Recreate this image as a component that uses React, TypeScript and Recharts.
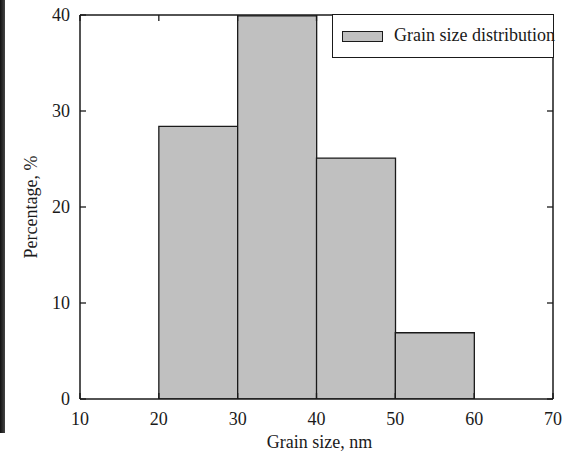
import React from 'react';
import {
  ComposedChart,
  Bar,
  XAxis,
  YAxis,
  Legend,
  Label,
} from 'recharts';

// grain size bins (nm), centre of each 10 nm bin
const binCenters = [25, 35, 45, 55];
// share of grains in each bin, %
const percentages = [28.4, 39.9, 25.1, 6.9];

const xTicks = [10, 20, 30, 40, 50, 60, 70];
const yTicks = [0, 10, 20, 30, 40];

const seriesName = 'Grain size distribution';
const xTitle = 'Grain size, nm';
const yTitle = 'Percentage, %';

const data = binCenters.map((x, i) => ({ x, pct: percentages[i] }));

const FONT = '"Liberation Serif", "Times New Roman", serif';
const INK = '#1a1a1a';
const BAR_FILL = '#c0c0c0';
const TICK = 6; // inward tick length

// tick renderers: the frame has its tick marks pointing inwards,
// labels stay outside
const BottomTick = ({ x, y, payload }: any) => (
  <g>
    <line x1={x} x2={x} y1={y - 13} y2={y - 13 - TICK} stroke={INK} strokeWidth={1.3} />
    <text x={x} y={y} dy="0.71em" textAnchor="middle" fontSize={18} fontFamily={FONT} fill={INK}>
      {payload.value}
    </text>
  </g>
);

const LeftTick = ({ x, y, payload }: any) => (
  <g>
    <line x1={x + 10} x2={x + 10 + TICK} y1={y} y2={y} stroke={INK} strokeWidth={1.3} />
    <text x={x} y={y} dy="0.355em" textAnchor="end" fontSize={18} fontFamily={FONT} fill={INK}>
      {payload.value}
    </text>
  </g>
);

const TopTick = ({ x, y }: any) => (
  <line x1={x} x2={x} y1={y} y2={y + TICK} stroke={INK} strokeWidth={1.3} />
);

const RightTick = ({ x, y }: any) => (
  <line x1={x} x2={x - TICK} y1={y} y2={y} stroke={INK} strokeWidth={1.3} />
);

const LegendBox = () => (
  <div
    style={{
      position: 'relative',
      width: 222,
      height: 44,
      boxSizing: 'border-box',
      border: `1.5px solid ${INK}`,
      background: '#fff',
      fontFamily: FONT,
    }}
  >
    <div
      style={{
        position: 'absolute',
        left: 9,
        top: 15.5,
        width: 41,
        height: 11,
        boxSizing: 'border-box',
        background: BAR_FILL,
        border: `1px solid ${INK}`,
      }}
    />
    <div
      style={{
        position: 'absolute',
        left: 61,
        top: 10,
        fontSize: 18,
        color: INK,
        whiteSpace: 'nowrap',
      }}
    >
      {seriesName}
    </div>
  </div>
);

export default function App() {
  return (
    <div
      style={{
        position: 'absolute',
        left: 0,
        top: 0,
        width: 574,
        height: 451,
        background: '#fff',
      }}
    >
      {/* dark scan edge on the left of the original figure */}
      <div
        style={{
          position: 'absolute',
          left: 0,
          top: 0,
          width: 5,
          height: 433,
          background: 'linear-gradient(to right, #111, #444)',
        }}
      />
      <ComposedChart
        width={574}
        height={451}
        data={data}
        margin={{ top: 14, right: 20, bottom: 0, left: 0 }}
        barCategoryGap={0}
        barGap={0}
      >
        <XAxis
          xAxisId="bottom"
          dataKey="x"
          type="number"
          domain={[10, 70]}
          ticks={xTicks}
          allowDataOverflow
          height={52}
          stroke={INK}
          strokeWidth={1.5}
          tickLine={false}
          tickSize={0}
          tickMargin={13}
          tick={<BottomTick />}
          interval={0}
        >
          <Label
            content={({ viewBox }: any) => (
              <text
                x={viewBox.x + viewBox.width / 2 + 3}
                y={viewBox.y + 49}
                textAnchor="middle"
                fontSize={18}
                fontFamily={FONT}
                fill={INK}
              >
                {xTitle}
              </text>
            )}
          />
        </XAxis>
        <XAxis
          xAxisId="top"
          dataKey="x"
          type="number"
          orientation="top"
          domain={[10, 70]}
          ticks={xTicks}
          allowDataOverflow
          height={1}
          stroke={INK}
          strokeWidth={1.5}
          tickLine={false}
          tickSize={0}
          tickMargin={0}
          tick={<TopTick />}
          interval={0}
        />
        <YAxis
          yAxisId="left"
          type="number"
          domain={[0, 40]}
          ticks={yTicks}
          allowDataOverflow
          width={80}
          stroke={INK}
          strokeWidth={1.5}
          tickLine={false}
          tickSize={0}
          tickMargin={10}
          tick={<LeftTick />}
          interval={0}
        >
          <Label
            content={({ viewBox }: any) => {
              const cx = viewBox.x + 31;
              const cy = viewBox.y + viewBox.height / 2;
              return (
                <text
                  x={cx}
                  y={cy}
                  transform={`rotate(-90 ${cx} ${cy})`}
                  textAnchor="middle"
                  dominantBaseline="central"
                  fontSize={18}
                  fontFamily={FONT}
                  fill={INK}
                >
                  {yTitle}
                </text>
              );
            }}
          />
        </YAxis>
        <YAxis
          yAxisId="right"
          type="number"
          orientation="right"
          domain={[0, 40]}
          ticks={yTicks}
          allowDataOverflow
          width={1}
          stroke={INK}
          strokeWidth={1.5}
          tickLine={false}
          tickSize={0}
          tickMargin={0}
          tick={<RightTick />}
          interval={0}
        />
        <Legend
          verticalAlign="middle"
          layout="horizontal"
          content={() => <LegendBox />}
          wrapperStyle={{ top: 14, left: 332, width: 222, height: 44 }}
        />
        <Bar
          xAxisId="bottom"
          yAxisId="left"
          dataKey="pct"
          name={seriesName}
          fill={BAR_FILL}
          stroke={INK}
          strokeWidth={1.3}
          isAnimationActive={false}
        />
      </ComposedChart>
    </div>
  );
}
